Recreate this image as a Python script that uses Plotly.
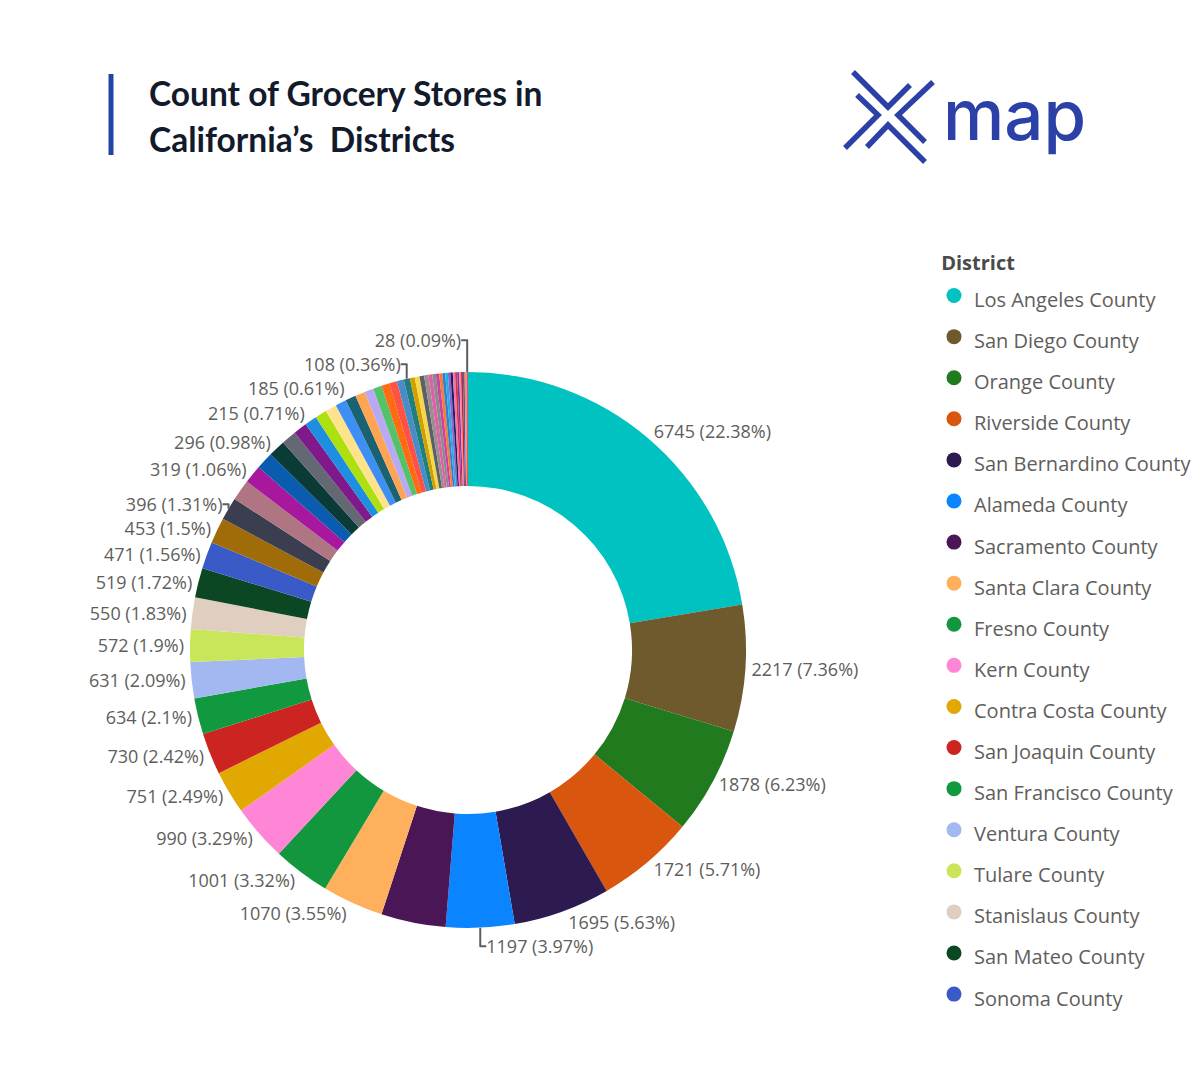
import plotly.graph_objects as go

W, H = 1200, 1080
PAGE_MARGIN = 8  # the html body margin shifts the figure by 8px

# Districts, largest first (Power BI legend order)
districts = [
    "Los Angeles County", "San Diego County", "Orange County", "Riverside County",
    "San Bernardino County", "Alameda County", "Sacramento County", "Santa Clara County",
    "Fresno County", "Kern County", "Contra Costa County", "San Joaquin County",
    "San Francisco County", "Ventura County", "Tulare County", "Stanislaus County",
    "San Mateo County", "Sonoma County", "Monterey County", "Solano County",
    "Santa Barbara County", "Placer County", "San Luis Obispo County", "Santa Cruz County",
    "Merced County", "Marin County", "Butte County", "Yolo County",
    "El Dorado County", "Imperial County", "Shasta County", "Madera County",
    "Kings County", "Napa County", "Humboldt County", "Nevada County",
    "Sutter County", "Mendocino County", "Yuba County", "Lake County",
    "Tehama County", "San Benito County", "Tuolumne County", "Calaveras County",
    "Siskiyou County", "Amador County", "Lassen County", "Glenn County",
    "Del Norte County", "Colusa County", "Plumas County", "Inyo County",
    "Mariposa County", "Mono County", "Trinity County", "Modoc County",
    "Sierra County", "Alpine County",
]
stores = [
    6745, 2217, 1878, 1721, 1695, 1197, 1131, 1070, 1001, 990, 751, 730,
    634, 631, 572, 550, 519, 471, 453, 396, 370, 319, 305, 296,
    262, 236, 215, 204, 198, 191, 185, 172, 160, 151, 142, 133,
    121, 108, 86, 84, 80, 74, 68, 63, 58, 54, 50, 47,
    44, 41, 39, 37, 35, 32, 31, 31, 30, 28,
]
colors = [
    "#00C2C0", "#6E5A2C", "#227A1F", "#D9560E", "#2C1A50", "#0A84FF", "#4A1656", "#FFB05C",
    "#12973F", "#FF85D6", "#E0A800", "#CC2420", "#11993F", "#A3B8F0", "#C9E65A", "#E0CFC0",
    "#0A4722", "#3A5AC8", "#A06C0A", "#3A3E4E", "#B07582", "#A8189E", "#0A5CB0", "#0A3B37",
    "#646872", "#7E1A8C", "#1E8FE0", "#AEE010", "#FFE28C", "#3D8EF5", "#1A6272", "#FFA452",
    "#B8A9F2", "#54C26A", "#FF6B10", "#FF5245", "#4A8CC8", "#1F7F7F", "#D4A000", "#F5D84A",
    "#5A5F6A", "#9A8E8E", "#E060A8", "#8A8A90", "#D040A0", "#F08030", "#3A7AD0", "#20B0E0",
    "#9060D0", "#1A2060", "#F070B0", "#E03040", "#7040A0", "#FF80A0", "#D02020", "#4060C0",
    "#FF9040", "#E05080",
]
# districts whose data label is visible on the chart
labelled = {
    "Los Angeles County", "San Diego County", "Orange County", "Riverside County",
    "San Bernardino County", "Alameda County", "Santa Clara County", "Fresno County",
    "Kern County", "Contra Costa County", "San Joaquin County", "San Francisco County",
    "Ventura County", "Tulare County", "Stanislaus County", "San Mateo County",
    "Sonoma County", "Monterey County", "Solano County", "Placer County",
    "Santa Cruz County", "Butte County", "Shasta County", "Mendocino County",
    "Alpine County",
}
legend_rows = 18  # entries visible in the legend panel

total = sum(stores)
texts = [
    f"{v} ({round(100 * v / total, 2):g}%)" if d in labelled else ""
    for d, v in zip(districts, stores)
]


# page pixel -> paper fraction
def px(x):
    return (x - PAGE_MARGIN) / W


def py(y):
    return 1 - (y - PAGE_MARGIN) / H


fig = go.Figure()

fig.add_trace(go.Pie(
    labels=districts,
    values=stores,
    text=texts,
    textinfo="text",
    textposition="outside",
    sort=False,
    direction="clockwise",
    rotation=0,
    hole=0.59,
    marker=dict(colors=colors, line=dict(width=0)),
    outsidetextfont=dict(family="Open Sans", size=18, color="#605E5C"),
    domain=dict(x=[px(190), px(746)], y=[py(928), py(372)]),
    showlegend=False,
))

# legend with round markers
for i, (name, color) in enumerate(zip(districts, colors)):
    fig.add_trace(go.Scatter(
        x=[None], y=[None], mode="markers",
        name=f"<span style='font-size:20px'>{name}</span>",
        marker=dict(color=color, size=15),
        showlegend=i < legend_rows,
        hoverinfo="skip",
    ))

# title bar and xmap logo
shapes = [dict(type="line", xref="paper", yref="paper",
               x0=px(111), x1=px(111), y0=py(74), y1=py(155),
               line=dict(color="#2344A6", width=5))]
logo_strokes = [
    [(853, 72), (888, 107), (910, 85)],
    [(857, 95), (878, 115), (845, 148)],
    [(933, 82), (898, 115), (925, 142)],
    [(867, 147), (888, 125), (925, 162)],
]
for stroke in logo_strokes:
    path = "M " + " L ".join(f"{px(x)},{py(y)}" for x, y in stroke)
    shapes.append(dict(type="path", xref="paper", yref="paper", path=path,
                       line=dict(color="#2B41A7", width=5.5)))

annotations = [
    dict(text="Count of Grocery Stores in", x=px(147), y=py(93),
         xanchor="left", yanchor="middle"),
    dict(text="California’s\u00a0 Districts", x=px(147), y=py(139),
         xanchor="left", yanchor="middle"),
]
for a in annotations:
    a.update(xref="paper", yref="paper", showarrow=False,
             font=dict(family="Lato", size=33.5, weight="bold", color="#121A2C"))
annotations.append(dict(
    text="map", x=px(941), y=py(115), xref="paper", yref="paper",
    xanchor="left", yanchor="middle", showarrow=False,
    font=dict(family="Inter", size=69, weight=500, color="#2B41A7"),
))

fig.update_layout(
    width=W, height=H,
    margin=dict(l=0, r=0, t=0, b=0),
    paper_bgcolor="white",
    plot_bgcolor="white",
    xaxis=dict(visible=False),
    yaxis=dict(visible=False),
    legend=dict(
        title=dict(text="\u00a0<b>District</b>",
                   font=dict(family="Open Sans", size=20, color="#4A4A4A")),
        font=dict(family="Open Sans", size=29.3, color="#605E5C"),
        x=px(934), y=py(244), xanchor="left", yanchor="top",
        bgcolor="rgba(0,0,0,0)",
    ),
    shapes=shapes,
    annotations=annotations,
)

fig.write_html("out.html")
